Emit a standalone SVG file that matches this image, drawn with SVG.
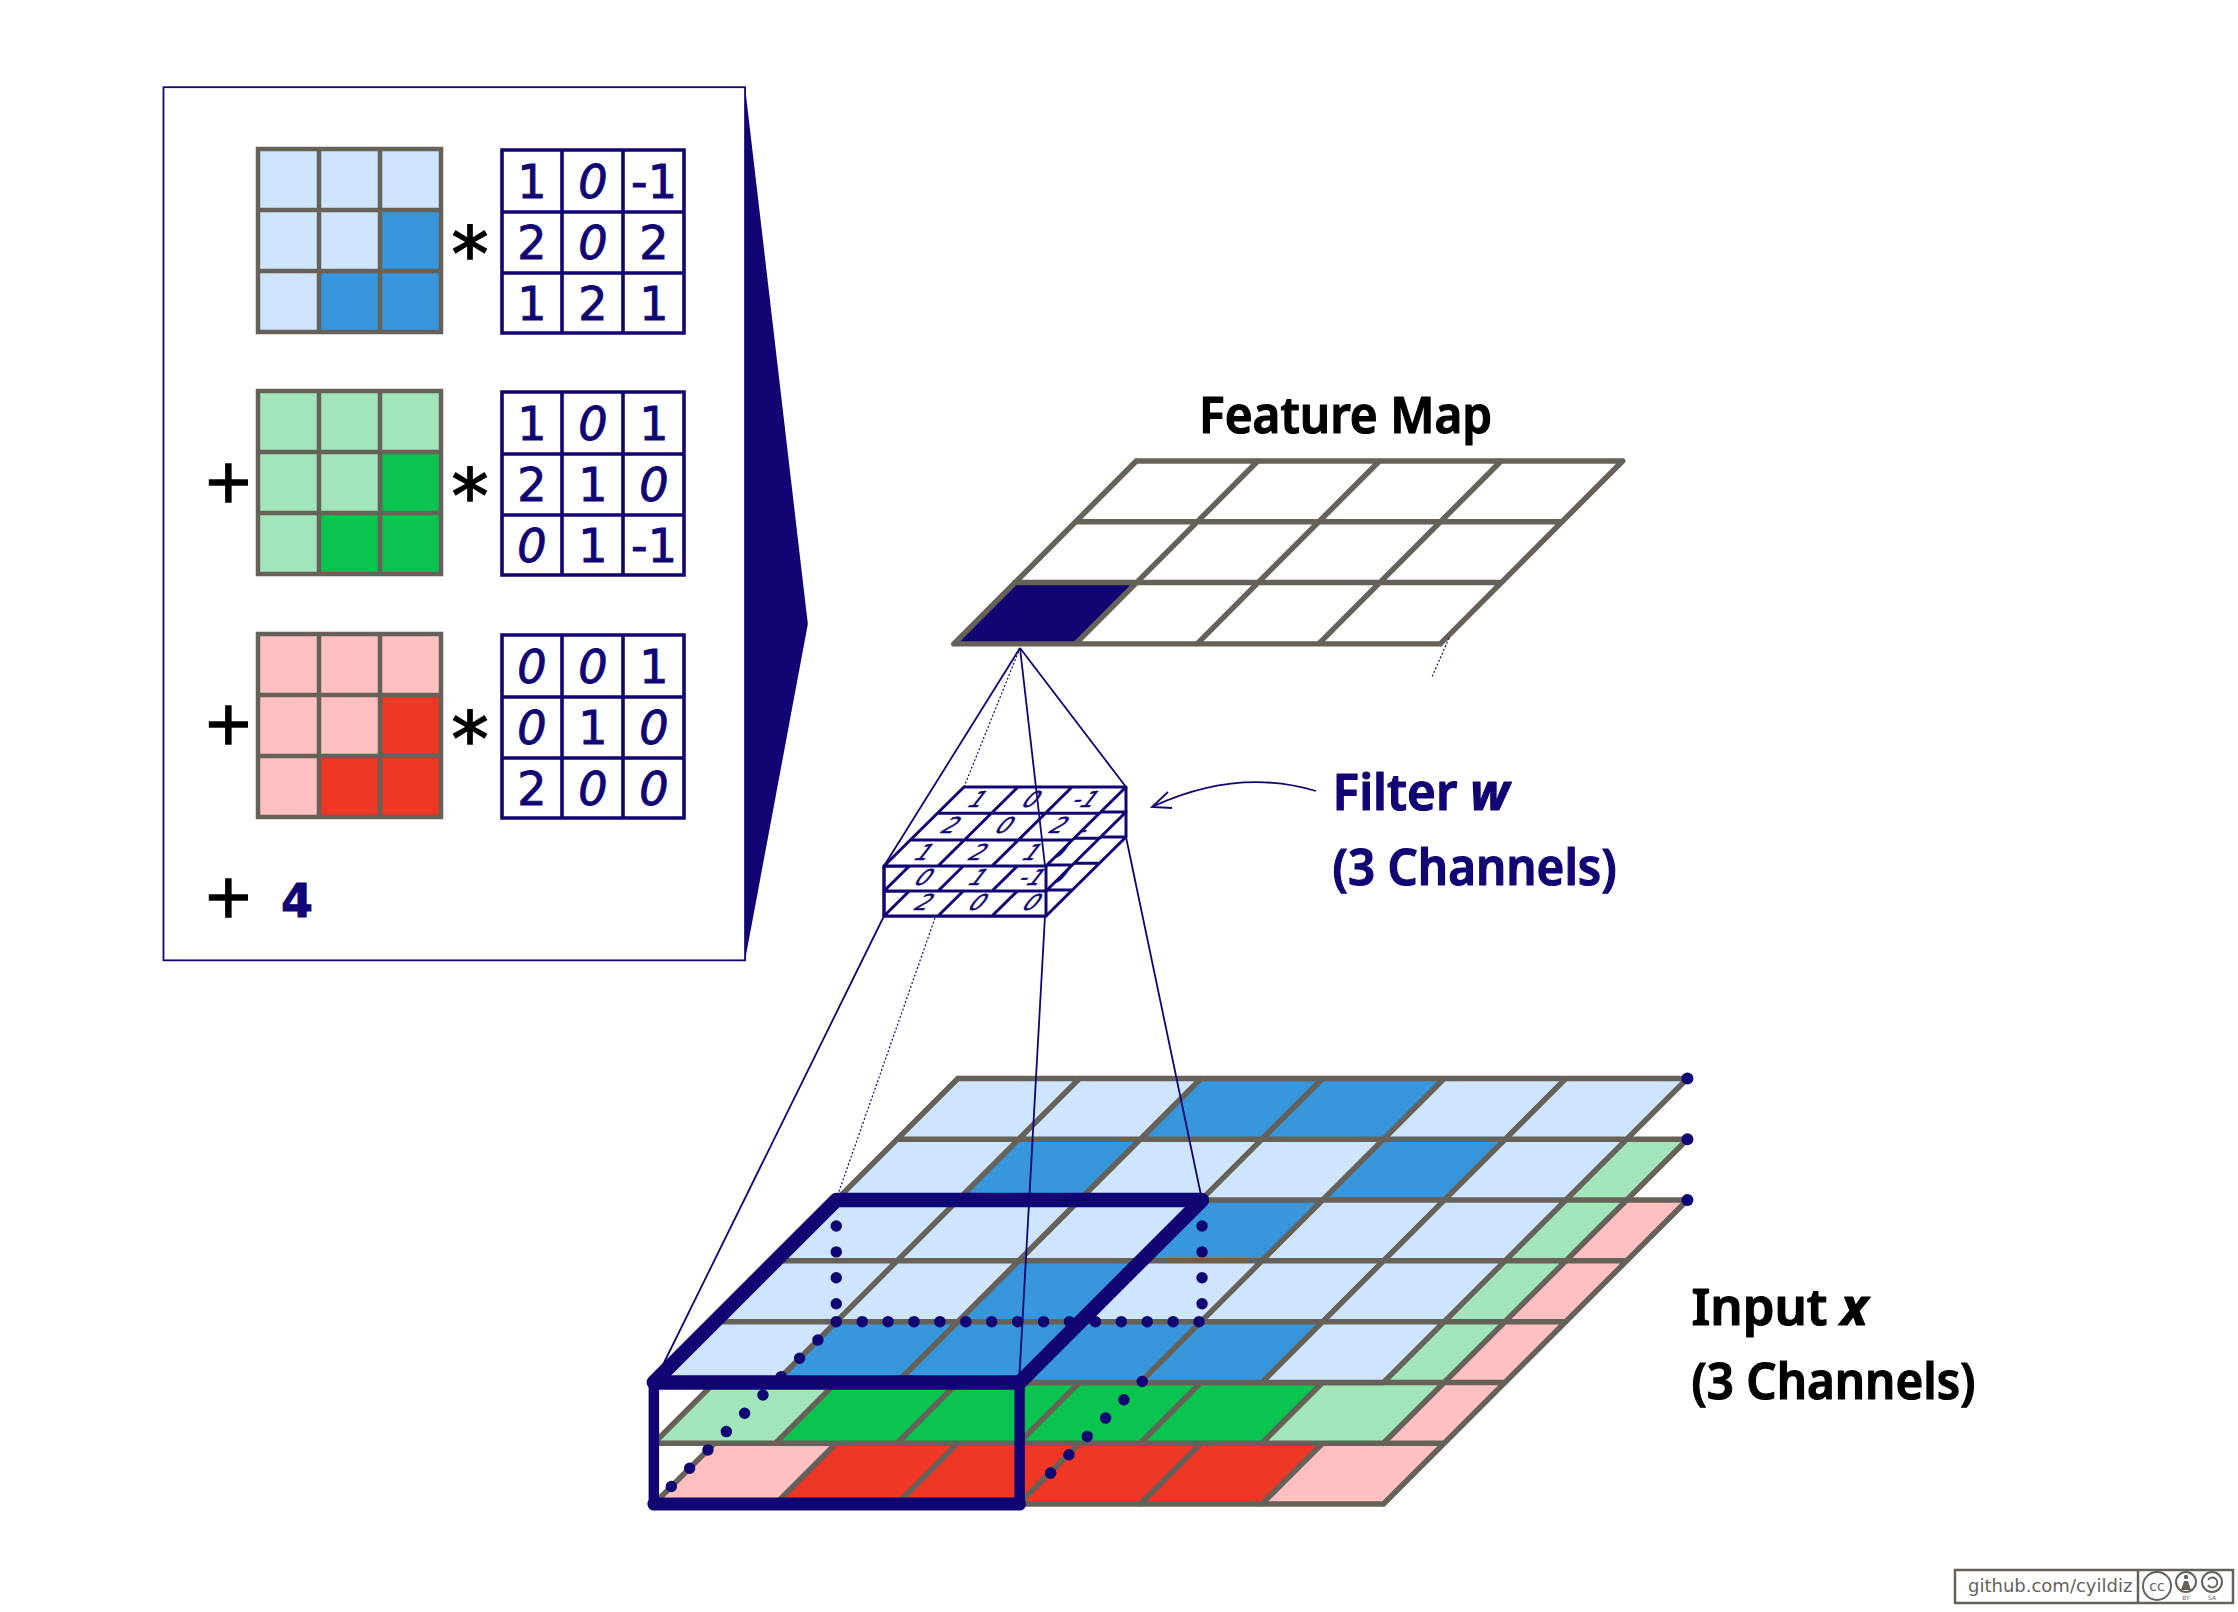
<svg xmlns="http://www.w3.org/2000/svg" xmlns:xlink="http://www.w3.org/1999/xlink" width="2238" height="1612" viewBox="0 0 2238 1612">
<style>
.lb{fill:#cee5fd}.db{fill:#3796dc}.lg{fill:#a3e5ba}.dg{fill:#0bc44f}.lr{fill:#ffc0c2}.dr{fill:#ee3724}
.gl{fill:none;stroke:#666259;stroke-width:5.5;stroke-linecap:round;stroke-linejoin:round}
.gs{fill:none;stroke:#666259;stroke-width:4.5;stroke-linecap:square}
.nl{fill:none;stroke:#110574;stroke-width:3.6;stroke-linecap:square}
.thin{fill:none;stroke:#110574;stroke-width:1.8}
.dash{fill:none;stroke:#110574;stroke-width:1.2;stroke-dasharray:2 2}
.heavy{fill:none;stroke:#110574;stroke-linejoin:round;stroke-linecap:round}
.dots{fill:none;stroke:#110574;stroke-width:11.5;stroke-linecap:round;stroke-dasharray:0 26}
.num{font-family:"DejaVu Sans",sans-serif;font-size:46px;fill:#110574;stroke:#110574;stroke-width:.9;text-anchor:middle}
.z{font-style:italic}
.star{font-family:"DejaVu Sans",sans-serif;font-size:74px;fill:#000;stroke:#000;stroke-width:1.6;text-anchor:middle}
.plus{font-family:"DejaVu Sans",sans-serif;font-size:60px;fill:#000;stroke:#000;stroke-width:1.6;text-anchor:middle}
.flt{fill:#fff;stroke:#110574;stroke-width:3;stroke-linejoin:round}
.ft{font-family:"DejaVu Sans",sans-serif;font-size:22px;fill:#110574;stroke:#110574;stroke-width:.5;text-anchor:middle}
.lbl{font-family:"Noto Sans",sans-serif;font-size:50px;font-weight:600;stroke-width:1.2;stroke-linejoin:round}
.k{fill:#000;stroke:#000}.n{fill:#110574;stroke:#110574}
.v{font-weight:700;font-style:italic}
.wm{font-family:"DejaVu Sans",sans-serif;fill:#666259}
</style>
<defs>
<path id="c" d="M0 0h122l-61 61h-122z"/>
<path id="layerLines" d="M961 1082H1693M900 1143H1632M839 1204H1571M778 1265H1510M717 1326H1449M656 1387H1388M961 1082L656 1387M1083 1082L778 1387M1205 1082L900 1387M1327 1082L1022 1387M1449 1082L1144 1387M1571 1082L1266 1387M1693 1082L1388 1387"/>
<rect id="sq" width="61" height="61"/>
<path id="colorGrid" d="M0 0H183V183H0ZM61 0V183M122 0V183M0 61H183M0 122H183"/>
<path id="numGrid" d="M0 0H182V183H0ZM60 0V183M121 0V183M0 62H182M0 123H182"/>
<path id="fl" d="M964 787H1126L1046 866H884ZM937.3 813.3H1099.3M910.7 840H1072.7M1018 787L938 866M1072 787L992 866"/>
</defs>

<g id="equation-panel" transform="scale(.99672)">
<rect x="164" y="87.5" width="583.5" height="876" fill="#fff" stroke="#110574" stroke-width="1.8"/>
<polygon points="747.5,87.5 810.5,626 747.5,963.5" fill="#110574"/>
</g>

<g id="matrix-blue" transform="translate(258 149)">
<rect width="183" height="183" class="lb"/>
<use xlink:href="#sq" x="122" y="61" class="db"/><use xlink:href="#sq" x="61" y="122" class="db"/><use xlink:href="#sq" x="122" y="122" class="db"/>
<use xlink:href="#colorGrid" class="gs"/>
</g>
<g id="matrix-green" transform="translate(258 391)">
<rect width="183" height="183" class="lg"/>
<use xlink:href="#sq" x="122" y="61" class="dg"/><use xlink:href="#sq" x="61" y="122" class="dg"/><use xlink:href="#sq" x="122" y="122" class="dg"/>
<use xlink:href="#colorGrid" class="gs"/>
</g>
<g id="matrix-red" transform="translate(258 634)">
<rect width="183" height="183" class="lr"/>
<use xlink:href="#sq" x="122" y="61" class="dr"/><use xlink:href="#sq" x="61" y="122" class="dr"/><use xlink:href="#sq" x="122" y="122" class="dr"/>
<use xlink:href="#colorGrid" class="gs"/>
</g>

<g id="kernel-1" transform="translate(502 150)">
<rect width="182" height="183" fill="#fff"/><use xlink:href="#numGrid" class="nl"/>
<g class="num">
<text x="30" y="48">1</text><text x="91" y="48" class="z">0</text><text x="152" y="48">-1</text>
<text x="30" y="109">2</text><text x="91" y="109" class="z">0</text><text x="152" y="109">2</text>
<text x="30" y="170">1</text><text x="91" y="170">2</text><text x="152" y="170">1</text>
</g>
</g>
<g id="kernel-2" transform="translate(502 392)">
<rect width="182" height="183" fill="#fff"/><use xlink:href="#numGrid" class="nl"/>
<g class="num">
<text x="30" y="48">1</text><text x="91" y="48" class="z">0</text><text x="152" y="48">1</text>
<text x="30" y="109">2</text><text x="91" y="109">1</text><text x="152" y="109" class="z">0</text>
<text x="30" y="170" class="z">0</text><text x="91" y="170">1</text><text x="152" y="170">-1</text>
</g>
</g>
<g id="kernel-3" transform="translate(502 635)">
<rect width="182" height="183" fill="#fff"/><use xlink:href="#numGrid" class="nl"/>
<g class="num">
<text x="30" y="48" class="z">0</text><text x="91" y="48" class="z">0</text><text x="152" y="48">1</text>
<text x="30" y="109" class="z">0</text><text x="91" y="109">1</text><text x="152" y="109" class="z">0</text>
<text x="30" y="170">2</text><text x="91" y="170" class="z">0</text><text x="152" y="170" class="z">0</text>
</g>
</g>

<g id="operators">
<text class="star" x="470" y="280">*</text>
<text class="star" x="470" y="522">*</text>
<text class="star" x="470" y="765">*</text>
<text class="plus" x="228.4" y="501.5">+</text>
<text class="plus" x="228.4" y="744">+</text>
<text class="plus" x="228.4" y="917">+</text>
<text class="num" x="297" y="917" font-weight="700">4</text>
</g>

<g id="feature-map" transform="scale(.99672)">
<polygon points="1140,462.5 1628,462.5 1445,646 957,646" fill="#fff"/>
<use xlink:href="#c" x="1018" y="585" fill="#110574"/>
<path class="gl" d="M1140 462.5H1628M1079 523.5H1567M1018 584.5H1506M957 646H1445M1140 462.5L957 646M1262 462.5L1079 646M1384 462.5L1201 646M1506 462.5L1323 646M1628 462.5L1445 646"/>
<text class="lbl k" x="1203" y="434" textLength="294" lengthAdjust="spacingAndGlyphs">Feature Map</text>
</g>

<g id="input" transform="scale(.99672)">
<g id="input-red">
<polygon points="961,1204 1693,1204 1388,1509 656,1509" class="lr"/>
<use xlink:href="#c" x="839" y="1448" class="dr"/><use xlink:href="#c" x="961" y="1448" class="dr"/><use xlink:href="#c" x="1083" y="1448" class="dr"/><use xlink:href="#c" x="1205" y="1448" class="dr"/>
<use xlink:href="#layerLines" y="122" class="gl"/>
<circle cx="1693" cy="1204" r="6" fill="#110574"/>
</g>
<g id="input-green">
<polygon points="961,1143 1693,1143 1388,1448 656,1448" class="lg"/>
<use xlink:href="#c" x="839" y="1387" class="dg"/><use xlink:href="#c" x="961" y="1387" class="dg"/><use xlink:href="#c" x="1083" y="1387" class="dg"/><use xlink:href="#c" x="1205" y="1387" class="dg"/>
<use xlink:href="#layerLines" y="61" class="gl"/>
<circle cx="1693" cy="1143" r="6" fill="#110574"/>
</g>
<g id="input-blue">
<polygon points="961,1082 1693,1082 1388,1387 656,1387" class="lb"/>
<use xlink:href="#c" x="1205" y="1082" class="db"/><use xlink:href="#c" x="1327" y="1082" class="db"/>
<use xlink:href="#c" x="1022" y="1143" class="db"/><use xlink:href="#c" x="1388" y="1143" class="db"/>
<use xlink:href="#c" x="1205" y="1204" class="db"/>
<use xlink:href="#c" x="1022" y="1265" class="db"/>
<use xlink:href="#c" x="839" y="1326" class="db"/><use xlink:href="#c" x="961" y="1326" class="db"/><use xlink:href="#c" x="1083" y="1326" class="db"/><use xlink:href="#c" x="1205" y="1326" class="db"/>
<use xlink:href="#layerLines" class="gl"/>
<circle cx="1693" cy="1082" r="6" fill="#110574"/>
</g>
</g>

<g id="connectors">
<path class="thin" d="M1020 648L884 866M1020 648L1126 787M884 916L654 1383M1045 916L1019 1383M1126 837L1202 1200"/>
<path class="dash" d="M1020 648L964 787M935 918L836 1200M1449 638L1432 677"/>
<path class="thin" d="M1316 791C1266 776 1211 780 1154 806"/>
<path class="thin" d="M1168 792L1152 807L1172 808"/>
</g>

<g id="filter">
<path class="flt" d="M884 916V866H1046V916ZM884 891H1046"/>
<g transform="translate(0 50)"><use xlink:href="#fl" class="flt"/></g>
<g transform="translate(0 50)">
<text class="ft" transform="translate(1059 826.3) skewX(-38)" y="7">0</text>
<text class="ft" transform="translate(924.3 852.6) skewX(-38)" y="7">2</text>
<text class="ft" transform="translate(978.3 852.6) skewX(-38)" y="7">0</text>
<text class="ft" transform="translate(1032.3 852.6) skewX(-38)" y="7">0</text>
</g>
<g transform="translate(0 25)"><use xlink:href="#fl" class="flt"/></g>
<g transform="translate(0 25)">
<text class="ft" transform="translate(1085.7 800) skewX(-38)" y="7">1</text>
<text class="ft" transform="translate(1059 826.3) skewX(-38)" y="7">0</text>
<text class="ft" transform="translate(924.3 852.6) skewX(-38)" y="7">0</text>
<text class="ft" transform="translate(978.3 852.6) skewX(-38)" y="7">1</text>
<text class="ft" transform="translate(1032.3 852.6) skewX(-38)" y="7">-1</text>
</g>
<use xlink:href="#fl" class="flt"/>
<path class="flt" d="M884 866V916M1046 866V916M1126 787V837" fill="none"/>
<text class="ft" transform="translate(977.7 800) skewX(-38)" y="7">1</text>
<text class="ft" transform="translate(1031.7 800) skewX(-38)" y="7">0</text>
<text class="ft" transform="translate(1085.7 800) skewX(-38)" y="7">-1</text>
<text class="ft" transform="translate(951 826.3) skewX(-38)" y="7">2</text>
<text class="ft" transform="translate(1005 826.3) skewX(-38)" y="7">0</text>
<text class="ft" transform="translate(1059 826.3) skewX(-38)" y="7">2</text>
<text class="ft" transform="translate(924.3 852.6) skewX(-38)" y="7">1</text>
<text class="ft" transform="translate(978.3 852.6) skewX(-38)" y="7">2</text>
<text class="ft" transform="translate(1032.3 852.6) skewX(-38)" y="7">1</text>
<path class="thin" d="M1020 648L1045 866"/>
</g>

<g id="filter-label" transform="scale(.99672)">
<text class="lbl n" x="1337" y="813" textLength="177" lengthAdjust="spacingAndGlyphs">Filter <tspan class="v">w</tspan></text>
<text class="lbl n" x="1337" y="888" textLength="285" lengthAdjust="spacingAndGlyphs">(3 Channels)</text>
</g>

<g id="receptive-box" transform="scale(.99672)">
<path class="dots" d="M839 1204V1326M1206 1204V1326M839 1326H1206M839 1326L656 1509"/>
<path class="dots" d="M1146 1386L1040 1492"/>
<path class="heavy" stroke-width="14.5" d="M839 1204H1206L1023 1387H656Z"/>
<path class="heavy" stroke-width="10.5" d="M656 1387V1509M1023 1509V1387"/>
<path class="heavy" stroke-width="13" d="M656 1509H1023"/>
</g>

<g id="input-label" transform="scale(.99672)">
<text class="lbl k" x="1697" y="1329" textLength="177" lengthAdjust="spacingAndGlyphs">Input <tspan class="v">x</tspan></text>
<text class="lbl k" x="1697" y="1404" textLength="285" lengthAdjust="spacingAndGlyphs">(3 Channels)</text>
</g>

<g id="license">
<rect x="1955" y="1570" width="278" height="33" fill="#fff" stroke="#666259" stroke-width="2.5"/>
<path d="M2138 1570V1603" stroke="#666259" stroke-width="2.5"/>
<text class="wm" x="1968" y="1592" font-size="18">github.com/cyildiz</text>
<circle cx="2157" cy="1586" r="14" fill="#fff" stroke="#666259" stroke-width="2"/>
<text class="wm" x="2157" y="1591" font-size="14" text-anchor="middle">cc</text>
<circle cx="2186" cy="1582" r="10" fill="#fff" stroke="#666259" stroke-width="2"/>
<circle cx="2186" cy="1577" r="2.2" fill="#666259"/><path d="M2181 1590L2184 1581H2188L2191 1590Z" fill="#666259"/>
<text class="wm" x="2186" y="1600" font-size="6" text-anchor="middle">BY</text>
<circle cx="2212" cy="1582" r="10" fill="#fff" stroke="#666259" stroke-width="2"/>
<path d="M2208 1580A5 5 0 1 1 2208 1585" fill="none" stroke="#666259" stroke-width="1.8"/>
<text class="wm" x="2212" y="1600" font-size="6" text-anchor="middle">SA</text>
</g>
</svg>
